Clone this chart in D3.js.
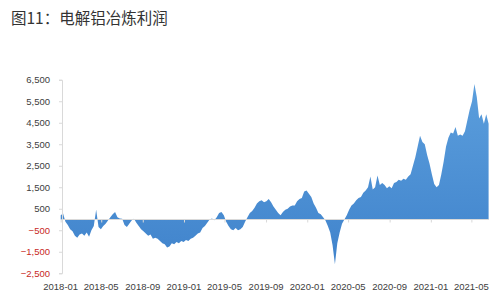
<!DOCTYPE html>
<html><head><meta charset="utf-8">
<script src="https://cdn.jsdelivr.net/npm/d3@7"></script>
<style>
html,body{margin:0;padding:0;background:#fff;}
svg{display:block;font-family:"Noto Sans CJK SC","Noto Sans",sans-serif;}
</style></head>
<body><svg id="c" width="500" height="295"></svg>
<script>
const title = "图11：电解铝冶炼利润";
const startDate = "2018-01-01";   // first weekly observation
const yTicks = [-2500, -1500, -500, 500, 1500, 2500, 3500, 4500, 5500, 6500];
const xTickLabels = ["2018-01","2018-05","2018-09","2019-01","2019-05","2019-09","2020-01","2020-05","2020-09","2021-01","2021-05"];
// weekly smelting profit (yuan/ton)
const profit = [
 200, 280, -100, -250, -450, -550, -750, -850, -700, -650,
 -750, -600, -800, -500, -300, 450, -350, -450, -300, -200,
 -50, 100, 250, 350, 100, 50, 30, -250, -350, -200,
 -50, 40, -150, -300, -450, -550, -650, -750, -700, -900,
 -850, -900, -1000, -1100, -1150, -1300, -1250, -1100, -1150, -1050,
 -1100, -1000, -1050, -950, -1000, -900, -850, -750, -650, -600,
 -400, -300, -150, 0, 50, -30, 100, 300, 350, 200,
 -100, -300, -450, -500, -400, -500, -450, -350, -100, 100,
 300, 400, 550, 750, 850, 900, 800, 850, 950, 800,
 600, 450, 300, 200, 350, 450, 500, 600, 650, 650,
 850, 950, 1000, 1300, 1350, 1200, 1050, 750, 550, 300,
 250, 100, -50, -300, -600, -1200, -2080, -1100, -600, -200,
 0, 200, 450, 650, 750, 900, 1000, 1050, 1250, 1350,
 1500, 2000, 1400, 1500, 2050, 1600, 1700, 1600, 1450, 1550,
 1450, 1700, 1750, 1850, 1800, 1900, 1850, 2000, 2100, 2500,
 2900, 3400, 3900, 3600, 3500, 3000, 2600, 2100, 1650, 1500,
 1600, 2100, 2700, 3400, 3800, 4050, 4000, 4300, 3900, 3950,
 3900, 4100, 4600, 5100, 5500, 6300, 5700, 4700, 4900, 4450,
 4900, 4450
];

const parse = d3.timeParse("%Y-%m-%d");
const t0 = parse(startDate);
const dates = profit.map((_, i) => d3.timeWeek.offset(t0, i));
const data = profit.map((v, i) => ({date: dates[i], value: v}));

const svg = d3.select("#c");
const x = d3.scaleTime().domain([dates[0], dates[dates.length - 1]]).range([60.7, 488.6]);
const y = d3.scaleLinear().domain([-2500, 6500]).range([273.25, 79.75]);

// title
svg.append("text").attr("x", 11).attr("y", 24).attr("font-size", 15.5)
  .attr("fill", "#333").text(title);

// gradient
const defs = svg.append("defs");
const grad = defs.append("linearGradient").attr("id", "g").attr("gradientUnits", "userSpaceOnUse")
  .attr("x1", 0).attr("y1", y(6500)).attr("x2", 0).attr("y2", y(-2500));
grad.append("stop").attr("offset", "0%").attr("stop-color", "#5c9fdd");
grad.append("stop").attr("offset", "100%").attr("stop-color", "#3f82cb");

// area
const area = d3.area().x(d => x(d.date)).y0(y(0)).y1(d => y(d.value)).curve(d3.curveLinear);
svg.append("path").datum(data).attr("d", area).attr("fill", "url(#g)");

// y axis
const yAxis = d3.axisLeft(y).tickValues(yTicks).tickSize(3).tickFormat(d3.format(","));
const gy = svg.append("g").attr("transform", "translate(62,0)").call(yAxis);
gy.select(".domain").attr("stroke", "#d9d9d9");
gy.selectAll(".tick line").attr("stroke", "#d9d9d9");
gy.selectAll(".tick text").attr("font-size", 9.5).attr("x", -12)
  .attr("fill", d => d < 0 ? "#c8281e" : "#404040")
  .style("font-family", "'Liberation Sans', Arial, sans-serif");

// x axis at zero (ticks only)
const tickDates = xTickLabels.map(s => d3.timeParse("%Y-%m")(s));
const xAxis = d3.axisBottom(x).tickValues(tickDates).tickSize(3).tickFormat("");
const gx = svg.append("g").attr("transform", `translate(0,${y(0)})`).call(xAxis);
gx.select(".domain").attr("stroke", "#d9d9d9").attr("d", `M62,0H489`);
gx.selectAll(".tick line").attr("stroke", "#d9d9d9");

// x labels at bottom
svg.append("g").selectAll("text").data(tickDates).join("text")
  .attr("x", d => x(d)).attr("y", 290).attr("text-anchor", "middle")
  .attr("font-size", 9.5).attr("fill", "#404040")
  .style("font-family", "'Liberation Sans', Arial, sans-serif")
  .text((d, i) => xTickLabels[i]);
</script></body></html>
